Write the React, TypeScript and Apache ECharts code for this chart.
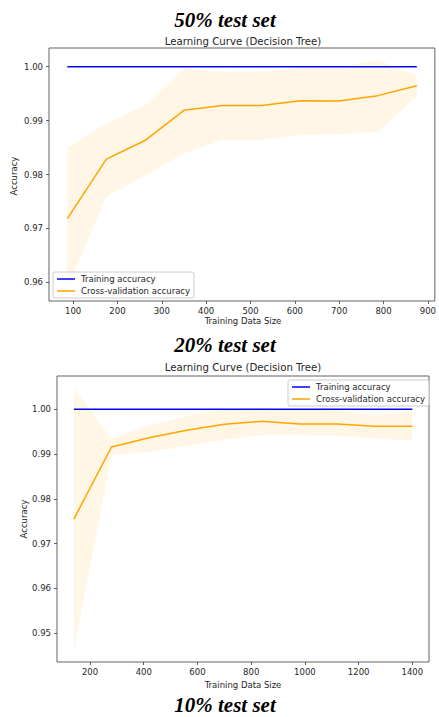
import React, { useEffect, useRef } from "react";
import * as echarts from "echarts";

// ---- Chart 1: 50% test set ----
const sizes1 = [87, 175, 262, 350, 437, 525, 612, 700, 787, 875];
const train1 = [1, 1, 1, 1, 1, 1, 1, 1, 1, 1];
const cvMean1 = [0.9718, 0.98285, 0.9863, 0.9919, 0.99278, 0.99278, 0.9937, 0.99365, 0.99463, 0.99648];
const cvUpper1 = [0.9849, 0.9895, 0.9928, 0.9997, 0.999, 0.99907, 0.9998, 0.9999, 1.0013, 0.99828];
const cvLower1 = [0.9587, 0.9759, 0.9797, 0.98396, 0.98642, 0.98642, 0.98735, 0.98747, 0.98785, 0.99444];
const xTicks1 = [100, 200, 300, 400, 500, 600, 700, 800, 900];
const yTicks1 = [0.96, 0.97, 0.98, 0.99, 1.0];

// ---- Chart 2: 20% test set ----
const sizes2 = [140, 280, 420, 560, 700, 840, 980, 1120, 1260, 1400];
const train2 = [1, 1, 1, 1, 1, 1, 1, 1, 1, 1];
const cvMean2 = [0.9755, 0.99158, 0.99366, 0.99531, 0.99665, 0.99732, 0.99672, 0.9967, 0.9962, 0.9962];
const cvUpper2 = [1.00475, 0.99344, 0.99643, 0.99844, 1.0, 1.0002, 0.9999, 0.9998, 0.99866, 0.99955];
const cvLower2 = [0.9464, 0.98973, 0.99047, 0.9918, 0.99321, 0.9942, 0.9942, 0.99412, 0.99344, 0.99308];
const xTicks2 = [200, 400, 600, 800, 1000, 1200, 1400];
const yTicks2 = [0.95, 0.96, 0.97, 0.98, 0.99, 1.0];

const headers = ["50% test set", "20% test set", "10% test set"];
const plotTitle = "Learning Curve (Decision Tree)";
const xName = "Training Data Size";
const yName = "Accuracy";
const trainName = "Training accuracy";
const cvName = "Cross-validation accuracy";

const FONT = "DejaVu Sans";
const TEXT = "#262626";
const SPINE = "#3a3a3a";
const BLUE = "#0000ff";
const ORANGE = "#ffa500";

function makeAxes(idx: number, xmin: number, xmax: number, xt: number[], ymin: number, ymax: number, yt: number[]) {
  const xAxis = {
    type: "value",
    gridIndex: idx,
    min: xmin,
    max: xmax,
    axisLine: { show: false },
    splitLine: { show: false },
    axisTick: { show: true, length: 3, customValues: xt, lineStyle: { color: SPINE, width: 0.8 } },
    axisLabel: {
      customValues: xt,
      margin: 5,
      color: TEXT,
      fontFamily: FONT,
      fontSize: 8.5,
      formatter: (v: number) => String(Math.round(v)),
    },
  };
  const yAxis = {
    type: "value",
    gridIndex: idx,
    min: ymin,
    max: ymax,
    axisLine: { show: false },
    splitLine: { show: false },
    axisTick: { show: true, length: 3, customValues: yt, lineStyle: { color: SPINE, width: 0.8 } },
    axisLabel: {
      customValues: yt,
      margin: 6,
      color: TEXT,
      fontFamily: FONT,
      fontSize: 8.5,
      formatter: (v: number) => v.toFixed(2),
    },
  };
  return { xAxis, yAxis };
}

function bandSeries(idx: number, xs: number[], up: number[], lo: number[]) {
  return {
    type: "custom",
    xAxisIndex: idx,
    yAxisIndex: idx,
    silent: true,
    z: 1,
    data: [[xs[0], up[0]]],
    renderItem: (params: any, api: any) => {
      const pts: number[][] = [];
      for (let i = 0; i < xs.length; i++) pts.push(api.coord([xs[i], up[i]]));
      for (let i = xs.length - 1; i >= 0; i--) pts.push(api.coord([xs[i], lo[i]]));
      return {
        type: "polygon",
        shape: { points: pts },
        style: { fill: "rgba(255,165,0,0.1)", stroke: "none" },
      };
    },
  };
}

function lineSeries(idx: number, name: string, xs: number[], ys: number[], color: string) {
  return {
    type: "line",
    name,
    xAxisIndex: idx,
    yAxisIndex: idx,
    data: xs.map((x, i) => [x, ys[i]]),
    showSymbol: false,
    symbol: "none",
    z: 3,
    lineStyle: { color, width: 1.5 },
    itemStyle: { color },
  };
}

function legendAt(left: number, top: number) {
  return {
    orient: "vertical",
    left,
    top,
    data: [trainName, cvName],
    icon: "rect",
    itemWidth: 18,
    itemHeight: 1.5,
    itemGap: 2,
    padding: [2, 4, 2, 4],
    borderColor: "#cccccc",
    borderWidth: 1,
    borderRadius: 2,
    backgroundColor: "rgba(255,255,255,0.8)",
    selectedMode: false,
    textStyle: { fontFamily: FONT, fontSize: 8.5, color: TEXT, lineHeight: 10, padding: [0, 0, 0, 1] },
  } as any;
}

export default function App() {
  const ref = useRef<HTMLDivElement>(null);
  useEffect(() => {
    if (!ref.current) return;
    const chart = echarts.init(ref.current, null, { renderer: "svg" });
    const a1 = makeAxes(0, 45.7, 915.7, xTicks1, 0.95653, 1.00347, yTicks1);
    const a2 = makeAxes(1, 77.1, 1462, xTicks2, 0.94359, 1.00743, yTicks2);
    const headerStyle = {
      font: "italic bold 21px 'Liberation Serif'",
      fill: "#000",
      textAlign: "center",
      textVerticalAlign: "middle",
    };
    const smallStyle = (size: number) => ({
      fontFamily: FONT,
      fontSize: size,
      fill: TEXT,
      textAlign: "center",
      textVerticalAlign: "middle",
    });
    const option: any = {
      animation: false,
      grid: [
        { left: 49, top: 48, width: 389, height: 253, show: true, borderColor: SPINE, borderWidth: 0.8, backgroundColor: "transparent" },
        { left: 57, top: 376, width: 372, height: 286, show: true, borderColor: SPINE, borderWidth: 0.8, backgroundColor: "transparent" },
      ],
      xAxis: [a1.xAxis, a2.xAxis],
      yAxis: [a1.yAxis, a2.yAxis],
      legend: [legendAt(53, 272), legendAt(288, 380)],
      series: [
        bandSeries(0, sizes1, cvUpper1, cvLower1),
        lineSeries(0, trainName, sizes1, train1, BLUE),
        lineSeries(0, cvName, sizes1, cvMean1, ORANGE),
        bandSeries(1, sizes2, cvUpper2, cvLower2),
        lineSeries(1, trainName, sizes2, train2, BLUE),
        lineSeries(1, cvName, sizes2, cvMean2, ORANGE),
      ],
      graphic: [
        { type: "text", x: 225, y: 20, style: { ...headerStyle, text: headers[0] } },
        { type: "text", x: 225, y: 345, style: { ...headerStyle, text: headers[1] } },
        { type: "text", x: 225, y: 705, style: { ...headerStyle, text: headers[2] } },
        { type: "text", x: 243, y: 41, style: { ...smallStyle(10.2), text: plotTitle } },
        { type: "text", x: 243, y: 367, style: { ...smallStyle(10.2), text: plotTitle } },
        { type: "text", x: 243, y: 321, style: { ...smallStyle(8.5), text: xName } },
        { type: "text", x: 243, y: 684.5, style: { ...smallStyle(8.5), text: xName } },
        { type: "text", x: 14, y: 176, rotation: Math.PI / 2, style: { ...smallStyle(8.5), text: yName } },
        { type: "text", x: 24, y: 519, rotation: Math.PI / 2, style: { ...smallStyle(8.5), text: yName } },
      ],
    };
    chart.setOption(option);
    return () => chart.dispose();
  }, []);
  return (
    <div
      ref={ref}
      style={{ position: "fixed", left: 0, top: 0, width: 439, height: 717, background: "#fff" }}
    />
  );
}
